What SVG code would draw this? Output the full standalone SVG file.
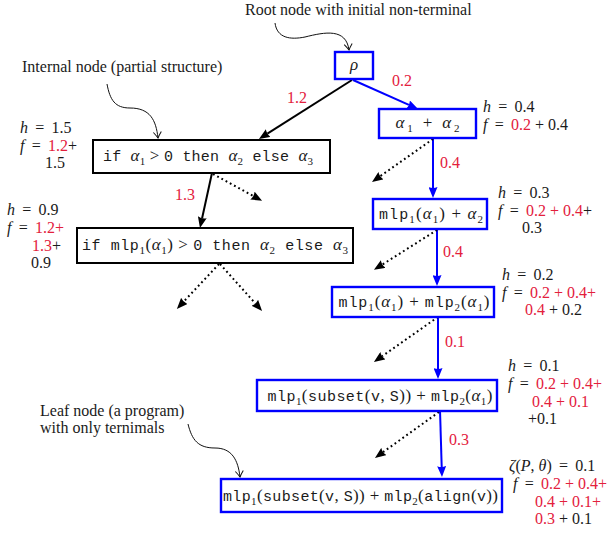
<svg xmlns="http://www.w3.org/2000/svg" width="613" height="533" viewBox="0 0 613 533">
<style>
text{font-family:"Liberation Serif","Times New Roman","DejaVu Serif",serif;font-size:16px;fill:#1a1a1a}
.lb{font-size:16px}
.n{text-anchor:middle;font-size:17px}
.tt{font-family:"Liberation Mono","Courier New","DejaVu Sans Mono",monospace;font-size:15px}
.it{font-style:italic}
.sb{font-size:11px}
.red{fill:#e3203c}
.bbox{fill:#fff;stroke:#000;stroke-width:2}
.ubox{fill:#fff;stroke:#0000ff;stroke-width:2.4}
.ek{stroke:#000;stroke-width:2;fill:none}
.eb{stroke:#0000ff;stroke-width:2;fill:none}
.ed{stroke:#000;stroke-width:2;stroke-dasharray:1.8 3;fill:none}
.cv{stroke:#111;stroke-width:1;fill:none}
</style>
<defs>
<marker id="ak" viewBox="0 0 11 9" refX="1" refY="4.5" markerWidth="11" markerHeight="9" orient="auto" markerUnits="userSpaceOnUse"><path d="M0,0 L11,4.5 L0,9 Q2,4.5 0,0 z" fill="#000"/></marker>
<marker id="au" viewBox="0 0 11 9" refX="1" refY="4.5" markerWidth="11" markerHeight="9" orient="auto" markerUnits="userSpaceOnUse"><path d="M0,0 L11,4.5 L0,9 Q2,4.5 0,0 z" fill="#0000ff"/></marker>
<marker id="ao" viewBox="-8 -5 10 10" refX="0" refY="0" markerWidth="10" markerHeight="10" orient="auto" markerUnits="userSpaceOnUse"><path d="M-6,-4 Q-2,-1 0,0 Q-2,1 -6,4" fill="none" stroke="#111" stroke-width="1"/></marker>
</defs>

<g id="annotations">
<text x="245" y="15">Root node with initial non-terminal</text>
<path class="cv" d="M275,23 C277,38 290,40 305,37 C325,32 346,28 349,50" marker-end="url(#ao)"/>
<text x="22" y="72">Internal node (partial structure)</text>
<path class="cv" d="M107,84 C110,100 115,108 130,108 C150,108 156,120 158,138" marker-end="url(#ao)"/>
<text x="40" y="416">Leaf node (a program)</text>
<text x="40" y="433">with only ternimals</text>
<path class="cv" d="M188,424 C192,440 198,448 215,448 C232,448 238,460 240,477" marker-end="url(#ao)"/>
</g>

<g id="connectors">
<line class="eb" x1="353" y1="80" x2="408.9" y2="104.9" marker-end="url(#au)"/>
<line class="ek" x1="352" y1="80" x2="267.4" y2="133.6" marker-end="url(#ak)"/>
<line class="eb" x1="433" y1="138" x2="433" y2="188" marker-end="url(#au)"/>
<line class="ed" x1="433" y1="139" x2="380.2" y2="176.2" marker-end="url(#ak)"/>
<line class="ek" x1="212" y1="173" x2="202.1" y2="218.2" marker-end="url(#ak)"/>
<line class="ed" x1="213" y1="174" x2="253.3" y2="196" marker-end="url(#ak)"/>
<line class="ed" x1="219" y1="264" x2="183.7" y2="301.6" marker-end="url(#ak)"/>
<line class="ed" x1="220" y1="264" x2="255.4" y2="303.5" marker-end="url(#ak)"/>
<line class="eb" x1="437" y1="229" x2="437" y2="276" marker-end="url(#au)"/>
<line class="ed" x1="437" y1="230" x2="382.4" y2="264.5" marker-end="url(#ak)"/>
<line class="eb" x1="438" y1="316" x2="438" y2="369" marker-end="url(#au)"/>
<line class="ed" x1="438" y1="317" x2="382.1" y2="356.2" marker-end="url(#ak)"/>
<line class="eb" x1="440" y1="410" x2="441.7" y2="467" marker-end="url(#au)"/>
<line class="ed" x1="439" y1="412" x2="383.1" y2="452.1" marker-end="url(#ak)"/>
<text class="red" x="287" y="103">1.2</text>
<text class="red" x="392" y="86">0.2</text>
<text class="red" x="440" y="168">0.4</text>
<text class="red" x="175" y="200">1.3</text>
<text class="red" x="443" y="257">0.4</text>
<text class="red" x="445" y="347">0.1</text>
<text class="red" x="449" y="445">0.3</text>
</g>

<g id="root">
<rect class="ubox" x="335" y="52" width="38" height="27"/>
<text class="n it" x="354" y="70">ρ</text>
</g>

<g id="n_alpha">
<rect class="ubox" x="379" y="109" width="97" height="29"/>
<text class="n" x="427.5" y="128" textLength="64" lengthAdjust="spacing"><tspan class="it">α</tspan><tspan class="sb" dy="3.5">1</tspan><tspan dy="-3.5"> + </tspan><tspan class="it">α</tspan><tspan class="sb" dy="3.5">2</tspan></text>
</g>
<g id="l_alpha">
<text class="lb" x="483" y="112"><tspan class="it">h</tspan>&#8201; = &#8201;0.4</text>
<text class="lb" x="483" y="130"><tspan class="it">f</tspan>&#8201; = &#8201;<tspan class="red">0.2</tspan> + 0.4</text>
</g>

<g id="n_if1">
<rect class="bbox" x="93" y="140" width="237" height="33"/>
<text class="n" x="208" y="161" textLength="210" lengthAdjust="spacing"><tspan class="tt">if </tspan><tspan class="it">α</tspan><tspan class="sb" dy="3.5">1</tspan><tspan dy="-3.5"> &gt; </tspan><tspan class="tt">0 then </tspan><tspan class="it">α</tspan><tspan class="sb" dy="3.5">2</tspan><tspan class="tt" dy="-3.5"> else </tspan><tspan class="it">α</tspan><tspan class="sb" dy="3.5">3</tspan></text>
</g>
<g id="l_if1">
<text class="lb" x="20" y="133"><tspan class="it">h</tspan>&#8201; = &#8201;1.5</text>
<text class="lb" x="20" y="151"><tspan class="it">f</tspan>&#8201; = &#8201;<tspan class="red">1.2</tspan>+</text>
<text class="lb" x="45" y="168">1.5</text>
</g>

<g id="n_if2">
<rect class="bbox" x="77" y="228" width="276" height="35"/>
<text class="n" x="215" y="250" textLength="266" lengthAdjust="spacing"><tspan class="tt">if mlp</tspan><tspan class="sb" dy="3.5">1</tspan><tspan dy="-3.5">(</tspan><tspan class="it">α</tspan><tspan class="sb" dy="3.5">1</tspan><tspan dy="-3.5">) &gt; </tspan><tspan class="tt">0 then </tspan><tspan class="it">α</tspan><tspan class="sb" dy="3.5">2</tspan><tspan class="tt" dy="-3.5"> else </tspan><tspan class="it">α</tspan><tspan class="sb" dy="3.5">3</tspan></text>
</g>
<g id="l_if2">
<text class="lb" x="7" y="215"><tspan class="it">h</tspan>&#8201; = &#8201;0.9</text>
<text class="lb" x="7" y="233"><tspan class="it">f</tspan>&#8201; = &#8201;<tspan class="red">1.2+</tspan></text>
<text class="lb" x="32" y="251"><tspan class="red">1.3</tspan>+</text>
<text class="lb" x="31" y="268">0.9</text>
</g>

<g id="n_mlp_a">
<rect class="ubox" x="373" y="199" width="114" height="30"/>
<text class="n" x="431" y="219" textLength="104" lengthAdjust="spacing"><tspan class="tt">mlp</tspan><tspan class="sb" dy="3.5">1</tspan><tspan dy="-3.5">(</tspan><tspan class="it">α</tspan><tspan class="sb" dy="3.5">1</tspan><tspan dy="-3.5">) + </tspan><tspan class="it">α</tspan><tspan class="sb" dy="3.5">2</tspan></text>
</g>
<g id="l_mlp_a">
<text class="lb" x="498" y="198"><tspan class="it">h</tspan>&#8201; = &#8201;0.3</text>
<text class="lb" x="498" y="216"><tspan class="it">f</tspan>&#8201; = &#8201;<tspan class="red">0.2 + 0.4</tspan>+</text>
<text class="lb" x="522" y="233">0.3</text>
</g>

<g id="n_mlp_mlp">
<rect class="ubox" x="332" y="287" width="162" height="30"/>
<text class="n" x="414" y="307" textLength="151" lengthAdjust="spacing"><tspan class="tt">mlp</tspan><tspan class="sb" dy="3.5">1</tspan><tspan dy="-3.5">(</tspan><tspan class="it">α</tspan><tspan class="sb" dy="3.5">1</tspan><tspan dy="-3.5">) + </tspan><tspan class="tt">mlp</tspan><tspan class="sb" dy="3.5">2</tspan><tspan dy="-3.5">(</tspan><tspan class="it">α</tspan><tspan class="sb" dy="3.5">1</tspan><tspan dy="-3.5">)</tspan></text>
</g>
<g id="l_mlp_mlp">
<text class="lb" x="502" y="280"><tspan class="it">h</tspan>&#8201; = &#8201;0.2</text>
<text class="lb" x="502" y="297.5"><tspan class="it">f</tspan>&#8201; = &#8201;<tspan class="red">0.2 + 0.4+</tspan></text>
<text class="lb" x="525" y="315"><tspan class="red">0.4</tspan> + 0.2</text>
</g>

<g id="n_subset">
<rect class="ubox" x="257" y="380" width="240" height="31"/>
<text class="n" x="380" y="401" textLength="225" lengthAdjust="spacing"><tspan class="tt">mlp</tspan><tspan class="sb" dy="3.5">1</tspan><tspan dy="-3.5">(</tspan><tspan class="tt">subset</tspan><tspan>(</tspan><tspan class="tt">v</tspan><tspan>, </tspan><tspan class="tt">S</tspan><tspan>)) + </tspan><tspan class="tt">mlp</tspan><tspan class="sb" dy="3.5">2</tspan><tspan dy="-3.5">(</tspan><tspan class="it">α</tspan><tspan class="sb" dy="3.5">1</tspan><tspan dy="-3.5">)</tspan></text>
</g>
<g id="l_subset">
<text class="lb" x="508" y="371"><tspan class="it">h</tspan>&#8201; = &#8201;0.1</text>
<text class="lb" x="508" y="389"><tspan class="it">f</tspan>&#8201; = &#8201;<tspan class="red">0.2 + 0.4+</tspan></text>
<text class="lb red" x="532" y="406.5">0.4 + 0.1</text>
<text class="lb" x="528" y="424">+0.1</text>
</g>

<g id="n_leaf">
<rect class="ubox" x="221" y="479" width="281" height="33"/>
<text class="n" x="360.5" y="501" textLength="275" lengthAdjust="spacing"><tspan class="tt">mlp</tspan><tspan class="sb" dy="3.5">1</tspan><tspan dy="-3.5">(</tspan><tspan class="tt">subset</tspan><tspan>(</tspan><tspan class="tt">v</tspan><tspan>, </tspan><tspan class="tt">S</tspan><tspan>)) + </tspan><tspan class="tt">mlp</tspan><tspan class="sb" dy="3.5">2</tspan><tspan dy="-3.5">(</tspan><tspan class="tt">align</tspan><tspan>(</tspan><tspan class="tt">v</tspan><tspan>))</tspan></text>
</g>
<g id="l_leaf">
<text class="lb" x="509" y="471"><tspan class="it">ζ</tspan>(<tspan class="it">P</tspan>, <tspan class="it">θ</tspan>)&#8201; = &#8201;0.1</text>
<text class="lb" x="513" y="489"><tspan class="it">f</tspan>&#8201; = &#8201;<tspan class="red">0.2 + 0.4+</tspan></text>
<text class="lb red" x="535" y="506.5">0.4 + 0.1+</text>
<text class="lb" x="535" y="524"><tspan class="red">0.3</tspan> + 0.1</text>
</g>
</svg>
